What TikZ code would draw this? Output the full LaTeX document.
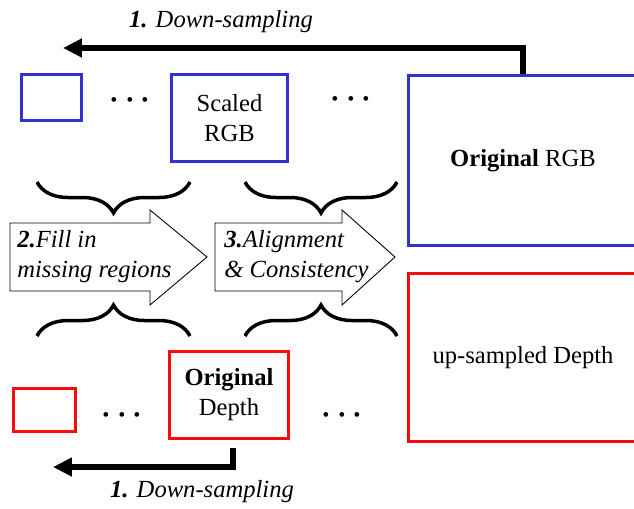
\documentclass[tikz,border=0pt]{standalone}
\usepackage{fontspec}
\setmainfont{Liberation Serif}
\usepackage{tikz}
\usetikzlibrary{arrows.meta,positioning,calc,decorations.pathreplacing}

\definecolor{rgbblue}{RGB}{50,50,205}
\definecolor{depred}{RGB}{250,10,10}

\begin{document}
\begin{tikzpicture}[
    x=0.02cm, y=-0.02cm,
    every node/.style={font=\fontsize{14}{17}\selectfont},
    img/.style={draw, line width=0.06cm, inner sep=0pt, align=center},
    rgb/.style={img, draw=rgbblue},
    dep/.style={img, draw=depred},
    dotrow/.style={anchor=base, inner sep=0pt, font=\fontsize{17}{20}\selectfont\boldmath},
    stagelabel/.style={font=\fontsize{14}{17}\selectfont\itshape},
    fat/.style={draw, line width=0.5pt},
    fattext/.style={anchor=west, align=left, inner sep=0pt, font=\fontsize{14}{17}\selectfont\itshape},
    grp/.style={decorate, decoration={brace, amplitude=0.62cm}, line width=0.07cm},
    down/.style={line width=0.11cm, -{Triangle[length=0.38cm,width=0.36cm]}}
]
    \clip (0,0) rectangle (634,508);

    % RGB pyramid
    \node[rgb, minimum width=1.2cm, minimum height=0.92cm] (rgbS) at (51.5,97.5) {};
    \node[rgb, minimum width=2.32cm, minimum height=1.74cm] (rgbM) at (229.5,118) {Scaled\\RGB};
    \node[rgb, minimum width=4.58cm, minimum height=3.4cm] (rgbL) at (523,160.5) {\textbf{Original} RGB};
    \node[dotrow] (dotsA) at (130,107) {$\cdots$};
    \node[dotrow] (dotsB) at (351,106) {$\cdots$};

    % Depth pyramid
    \node[dep, minimum width=1.24cm, minimum height=0.86cm] (depS) at (44.5,410) {};
    \node[dep, minimum width=2.38cm, minimum height=1.74cm] (depM) at (229,395) {\textbf{Original}\\Depth};
    \node[dep, minimum width=4.58cm, minimum height=3.36cm] (depL) at (523,357.5) {up-sampled Depth};
    \node[dotrow] (dotsC) at (122,422) {$\cdots$};
    \node[dotrow] (dotsD) at (342,422) {$\cdots$};

    % Down-sampling
    \coordinate (topend) at (63,48);
    \coordinate (botend) at (53,467);
    \draw[down] (rgbL.north) |- (topend);
    \draw[down] ([xshift=0.08cm, yshift=-0.16cm]depM.south) |- (botend);
    \node[stagelabel] (dsTop) at (221,22) {\textbf{1.} Down-sampling};
    \node[stagelabel] (dsBot) at (202,492) {\textbf{1.} Down-sampling};

    % Braces
    \foreach \xa/\xb in {37/190, 245/397} {
        \draw[grp] (\xb,182) -- (\xa,182);
        \draw[grp] (\xa,336) -- (\xb,336);
    }

    % Steps
    \foreach \xa/\xb/\xt in {10/150/207, 215/342/395} {
        \draw[fat] (\xa,223) -- (\xb,223) -- (\xb,210) -- (\xt,257)
            -- (\xb,305) -- (\xb,291) -- (\xa,291) -- cycle;
    }
    \node[fattext] (fill) at (17,257) {\textbf{2.}Fill in\\missing regions};
    \node[fattext] (align) at (224,257) {\textbf{3.}Alignment\\\& Consistency};
\end{tikzpicture}
\end{document}
